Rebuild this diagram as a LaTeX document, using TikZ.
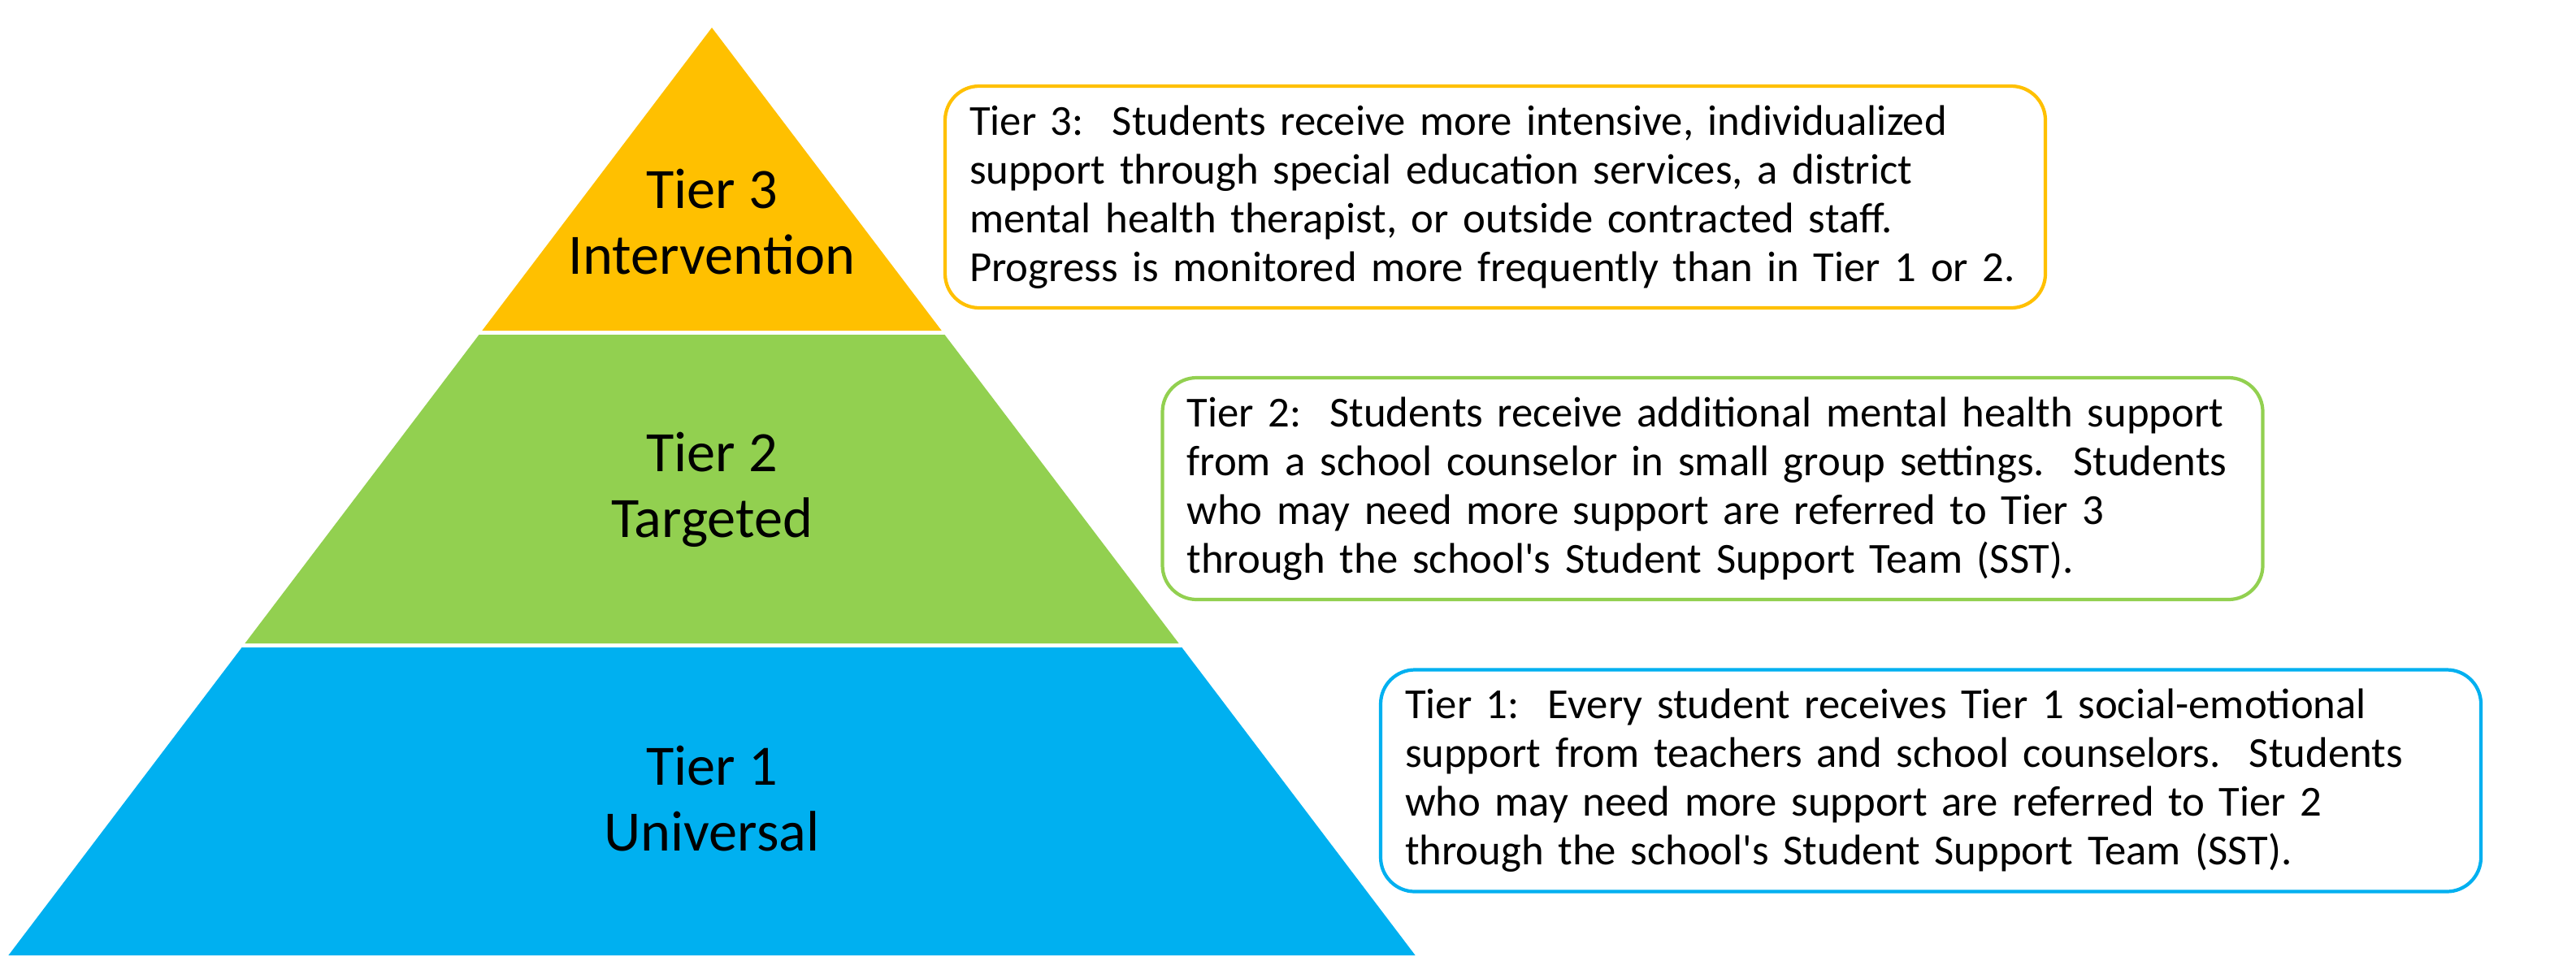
\documentclass[tikz,border=0pt]{standalone}
\usepackage{fontspec}
\setmainfont{Carlito}
\definecolor{tierorange}{HTML}{FFC000}
\definecolor{tiergreen}{HTML}{92D050}
\definecolor{tierblue}{HTML}{00B0F0}

\tikzstyle{tier} = [align=center,anchor=base,font=\fontsize{20}{22.8}\selectfont]
\tikzstyle{infobox} = [draw,line width=1.2pt,rounded corners=0.42cm,fill=white,minimum width=13.54cm,minimum height=2.73cm,text width=12.94cm,inner xsep=0.3cm,align=left,font=\fontsize{15}{17.1}\selectfont]

\begin{document}
\begin{tikzpicture}
	\useasboundingbox (0,0) rectangle (31.70,11.82);
	\fill[tierorange] (8.76,11.48) -- (11.587,7.75) -- (5.933,7.75) -- cycle;
	\fill[tiergreen] (5.895,7.70) -- (11.625,7.70) -- (14.506,3.90) -- (3.014,3.90) -- cycle;
	\fill[tierblue] (2.976,3.85) -- (14.544,3.85) -- (17.416,0.06) -- (0.104,0.06) -- cycle;
	\node[tier] (t3) at (8.76,8.45) {Tier 3\\Intervention};
	\node[tier] (t2) at (8.76,5.21) {Tier 2\\Targeted};
	\node[tier] (t1) at (8.76,1.35) {Tier 1\\Universal};
	\node[infobox,draw=tierorange] (box3) at (18.40,9.395) {Tier 3:\ \ Students receive more intensive, individualized\\support through special education services, a district\\mental health therapist, or outside contracted staff.\\Progress is monitored more frequently than in Tier 1 or 2.};
	\node[infobox,draw=tiergreen] (box2) at (21.075,5.805) {Tier 2:\ \ Students receive additional mental health support\\from a school counselor in small group settings.\ \ Students\\who may need more support are referred to Tier 3\\through the school\textquotesingle s Student Support Team (SST).};
	\node[infobox,draw=tierblue] (box1) at (23.76,2.21) {Tier 1:\ \ Every student receives Tier 1 social-emotional\\support from teachers and school counselors.\ \ Students\\who may need more support are referred to Tier 2\\through the school\textquotesingle s Student Support Team (SST).};
\end{tikzpicture}
\end{document}
